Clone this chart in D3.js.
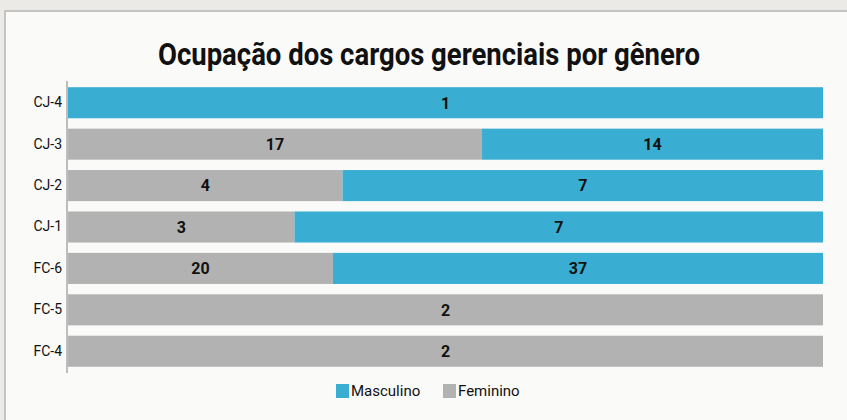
<!DOCTYPE html>
<html>
<head>
<meta charset="utf-8">
<script src="https://cdn.jsdelivr.net/npm/d3@7"></script>
<style>
  body { margin: 0; background: #ebeae7; }
  #chart { width: 847px; height: 420px; }
  text { font-family: "Liberation Sans Narrow", "Roboto", "DejaVu Sans Condensed", sans-serif; }
</style>
</head>
<body>
<div id="chart"></div>
<script>
// data
const categories = ["CJ-4", "CJ-3", "CJ-2", "CJ-1", "FC-6", "FC-5", "FC-4"];
const feminino = [0, 17, 4, 3, 20, 2, 2];
const masculino = [1, 14, 7, 7, 37, 0, 0];
const seriesNames = ["Feminino", "Masculino"];
const legendOrder = ["Masculino", "Feminino"];
const colors = {Masculino: "#39aed2", Feminino: "#b2b2b2"};

const W = 847, H = 420;
const svg = d3.select("#chart").append("svg")
    .attr("width", W).attr("height", H);

// panel
svg.append("rect").attr("x", 0).attr("y", 0).attr("width", W).attr("height", H).attr("fill", "#ebeae7");
svg.append("rect").attr("x", 5).attr("y", 11).attr("width", W).attr("height", H)
    .attr("fill", "#fafaf8").attr("stroke", "#c4c4c2").attr("stroke-width", 2);

svg.append("text")
    .attr("x", 429).attr("y", 65)
    .attr("text-anchor", "middle")
    .attr("font-size", 31).attr("font-weight", "bold").attr("fill", "#111")
    .attr("textLength", 542).attr("lengthAdjust", "spacingAndGlyphs")
    .text("Ocupação dos cargos gerenciais por gênero");

const table = categories.map((c, i) => ({cat: c, Feminino: feminino[i], Masculino: masculino[i]}));
const stack = d3.stack().keys(seriesNames).offset(d3.stackOffsetExpand);
const layers = stack(table);

const x = d3.scaleLinear().domain([0, 1]).range([68, 823]);
const y = d3.scaleBand().domain(categories).range([81, 373]).paddingInner(0.25).paddingOuter(0.15);

const g = svg.append("g");
layers.forEach(layer => {
    const key = layer.key;
    g.selectAll(".bar-" + key)
        .data(layer)
        .enter().append("rect")
        .attr("x", d => x(d[0]))
        .attr("y", d => y(d.data.cat))
        .attr("width", d => x(d[1]) - x(d[0]))
        .attr("height", y.bandwidth())
        .attr("fill", colors[key]);

    g.selectAll(".lbl-" + key)
        .data(layer.filter(d => d.data[key] > 0))
        .enter().append("text")
        .attr("x", d => (x(d[0]) + x(d[1])) / 2)
        .attr("y", d => y(d.data.cat) + y.bandwidth() / 2)
        .attr("dy", "0.36em")
        .attr("text-anchor", "middle")
        .attr("font-size", 16).attr("font-weight", "bold").attr("fill", "#111")
        .text(d => d.data[key]);
});

// y axis
const yAxis = svg.append("g")
    .attr("transform", "translate(67,0)")
    .call(d3.axisLeft(y).tickSize(0).tickPadding(5));
yAxis.select(".domain").attr("stroke", "#bdbdbd").attr("stroke-width", 2)
    .attr("d", "M0,81V373");
yAxis.selectAll("text").attr("font-size", 14).attr("fill", "#111")
    .style("font-family", "'Liberation Sans Narrow', Roboto, sans-serif");

// legend
const legendX = {Masculino: 336, Feminino: 443};
const leg = svg.append("g");
legendOrder.forEach(k => {
    leg.append("rect").attr("x", legendX[k]).attr("y", 384).attr("width", 13).attr("height", 14).attr("fill", colors[k]);
    leg.append("text").attr("x", legendX[k] + 15).attr("y", 391).attr("dy", "0.36em")
        .attr("font-size", 15).attr("fill", "#111").text(k);
});
</script>
</body>
</html>
